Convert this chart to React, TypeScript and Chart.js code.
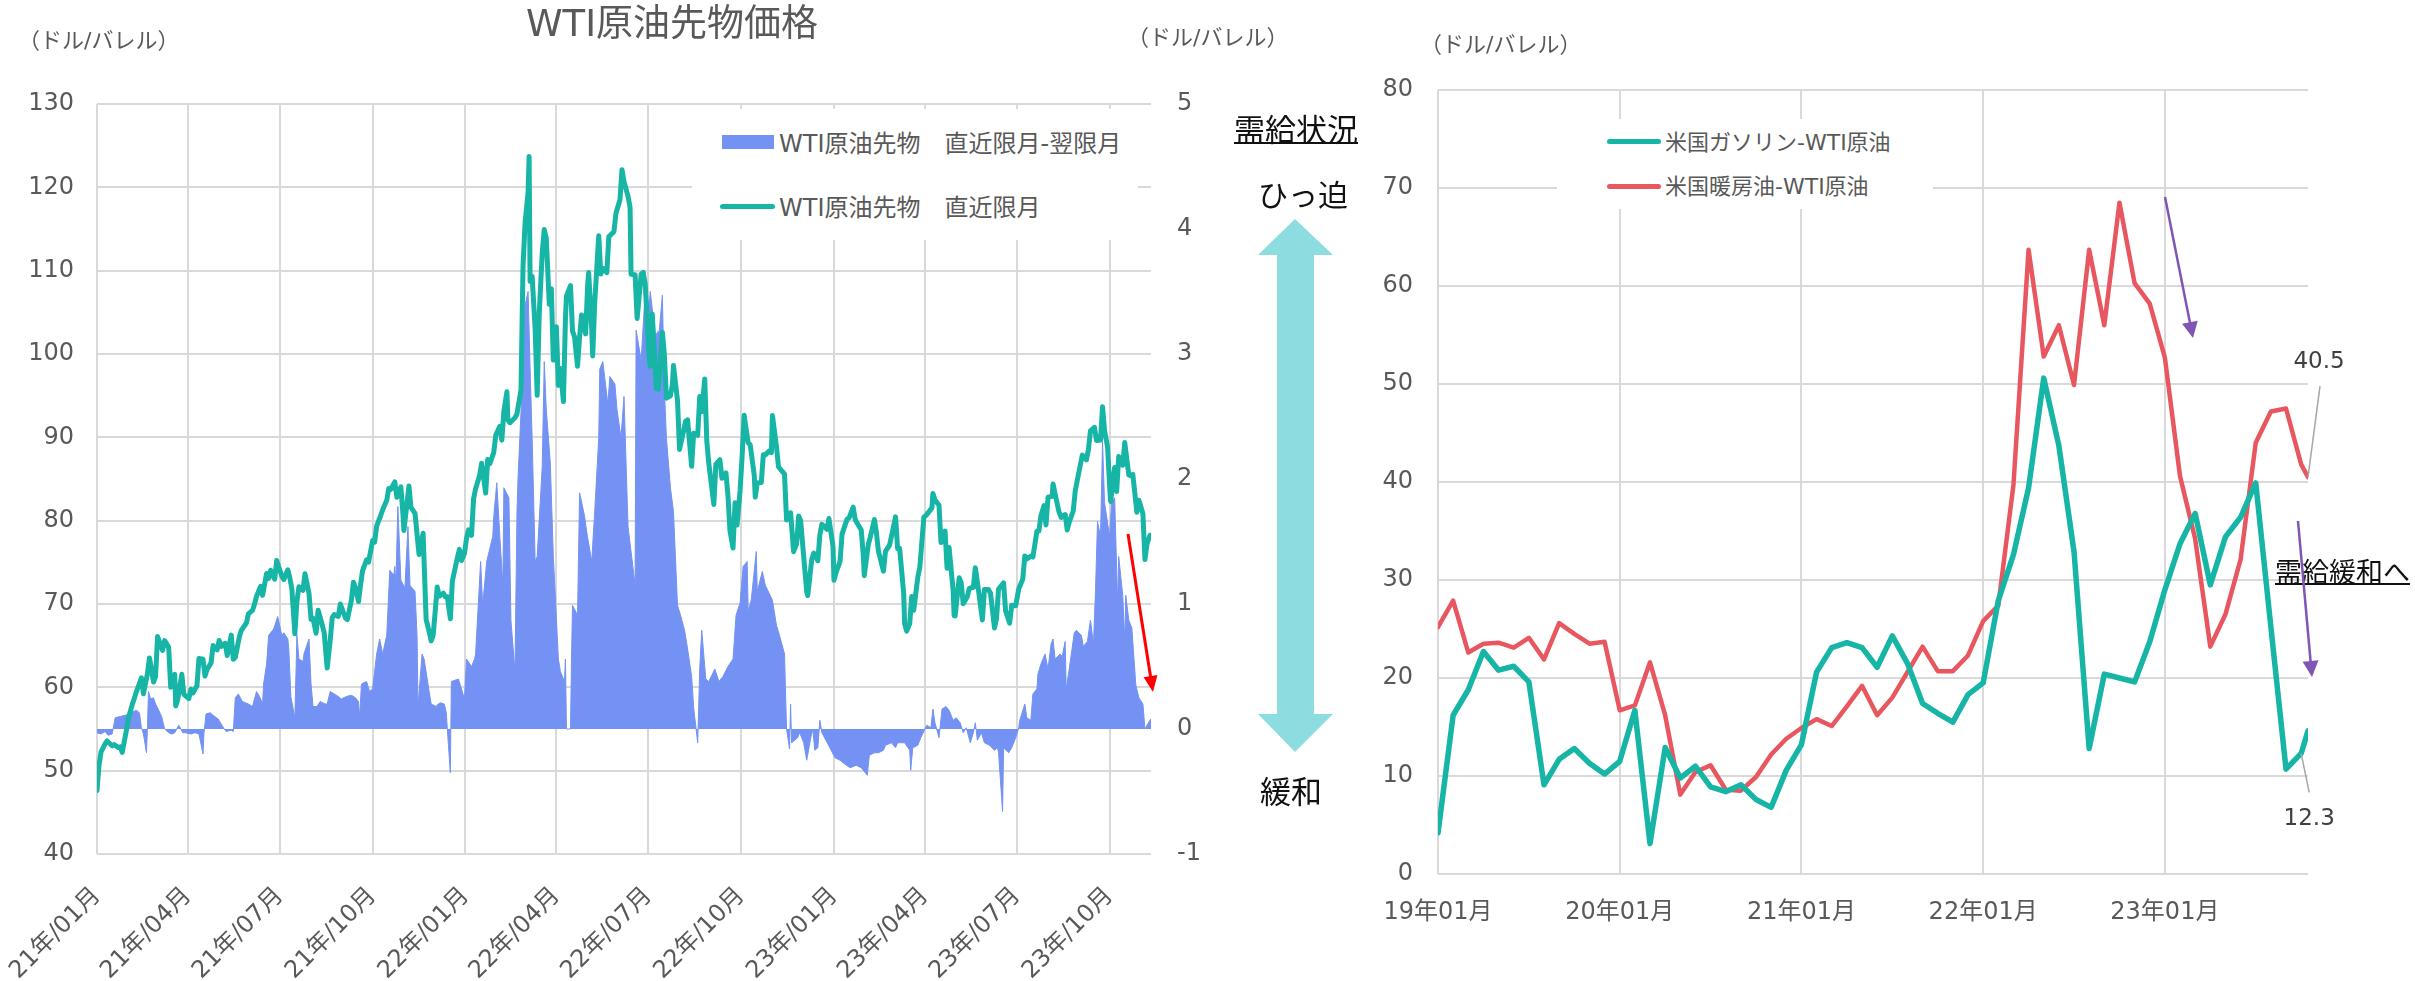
import React, { useEffect, useRef } from "react";
import { Chart, registerables } from "chart.js";

Chart.register(...registerables);

const FONT = "'DejaVu Sans', 'Noto Sans CJK JP', sans-serif";
const TEXT = "#595959";
const GRID = "#d9d9d9";
const TEAL = "#16B5A6";
const BLUE = "#7392F3";
const RED = "#E8575F";
const PURPLE = "#7F56B3";
const ARROW_CYAN = "#8CDCE0";

// ---------------- Left chart: WTI front month (USD/bbl) ----------------
const wtiDates = [
  "21-01-04","21-01-06","21-01-08","21-01-12","21-01-14","21-01-19","21-01-21","21-01-25","21-01-27","21-01-29",
  "21-02-02","21-02-04","21-02-08","21-02-10","21-02-12","21-02-17","21-02-19","21-02-23","21-02-25",
  "21-03-01","21-03-03","21-03-05","21-03-08","21-03-10","21-03-12","21-03-16","21-03-18","21-03-22","21-03-23","21-03-25","21-03-29","21-03-31",
  "21-04-05","21-04-07","21-04-09","21-04-13","21-04-15","21-04-19","21-04-21","21-04-23","21-04-27","21-04-29",
  "21-05-03","21-05-05","21-05-07","21-05-11","21-05-13","21-05-17","21-05-19","21-05-21","21-05-25","21-05-27",
  "21-06-01","21-06-03","21-06-07","21-06-09","21-06-11","21-06-15","21-06-17","21-06-21","21-06-23","21-06-25","21-06-29",
  "21-07-01","21-07-06","21-07-08","21-07-12","21-07-14","21-07-16","21-07-19","21-07-21","21-07-23","21-07-27","21-07-29",
  "21-08-02","21-08-04","21-08-06","21-08-09","21-08-11","21-08-13","21-08-17","21-08-19","21-08-20","21-08-23","21-08-25","21-08-27","21-08-31",
  "21-09-02","21-09-07","21-09-09","21-09-13","21-09-15","21-09-17","21-09-20","21-09-22","21-09-24","21-09-28","21-09-30",
  "21-10-04","21-10-06","21-10-08","21-10-12","21-10-14","21-10-18","21-10-20","21-10-22","21-10-26","21-10-28",
  "21-11-01","21-11-03","21-11-04","21-11-09","21-11-11","21-11-15","21-11-17","21-11-19","21-11-23","21-11-26","21-11-30",
  "21-12-01","21-12-03","21-12-07","21-12-09","21-12-13","21-12-15","21-12-17","21-12-20","21-12-22","21-12-27","21-12-29","21-12-31",
  "22-01-03","22-01-05","22-01-07","22-01-10","22-01-12","22-01-14","22-01-18","22-01-20","22-01-24","22-01-26","22-01-28",
  "22-02-01","22-02-03","22-02-07","22-02-09","22-02-11","22-02-14","22-02-15","22-02-17","22-02-22","22-02-24","22-02-28",
  "22-03-01","22-03-02","22-03-04","22-03-07","22-03-08","22-03-09","22-03-11","22-03-14","22-03-16","22-03-18","22-03-21","22-03-23","22-03-25","22-03-28","22-03-30",
  "22-04-01","22-04-04","22-04-06","22-04-08","22-04-11","22-04-13","22-04-14","22-04-18","22-04-20","22-04-22","22-04-25","22-04-27","22-04-29",
  "22-05-03","22-05-05","22-05-06","22-05-09","22-05-10","22-05-12","22-05-16","22-05-18","22-05-20","22-05-24","22-05-26","22-05-31",
  "22-06-02","22-06-06","22-06-08","22-06-10","22-06-14","22-06-16","22-06-17","22-06-21","22-06-23","22-06-27","22-06-29",
  "22-07-01","22-07-05","22-07-06","22-07-08","22-07-12","22-07-14","22-07-18","22-07-20","22-07-22","22-07-26","22-07-28","22-07-29",
  "22-08-02","22-08-04","22-08-08","22-08-10","22-08-12","22-08-16","22-08-18","22-08-22","22-08-24","22-08-26","22-08-29","22-08-31",
  "22-09-02","22-09-07","22-09-09","22-09-13","22-09-15","22-09-19","22-09-21","22-09-23","22-09-26","22-09-28","22-09-30",
  "22-10-03","22-10-05","22-10-07","22-10-11","22-10-13","22-10-17","22-10-18","22-10-20","22-10-24","22-10-26","22-10-28",
  "22-11-01","22-11-03","22-11-04","22-11-08","22-11-10","22-11-14","22-11-16","22-11-18","22-11-22","22-11-25","22-11-28","22-11-30",
  "22-12-02","22-12-06","22-12-08","22-12-09","22-12-13","22-12-15","22-12-19","22-12-21","22-12-23","22-12-28","22-12-30",
  "23-01-03","23-01-04","23-01-06","23-01-10","23-01-12","23-01-17","23-01-19","23-01-23","23-01-25","23-01-27","23-01-31",
  "23-02-02","23-02-03","23-02-07","23-02-09","23-02-13","23-02-15","23-02-17","23-02-22","23-02-24","23-02-28",
  "23-03-02","23-03-06","23-03-08","23-03-10","23-03-14","23-03-15","23-03-17","23-03-20","23-03-22","23-03-24","23-03-28","23-03-30",
  "23-04-03","23-04-05","23-04-11","23-04-12","23-04-14","23-04-18","23-04-20","23-04-24","23-04-26","23-04-28",
  "23-05-02","23-05-03","23-05-04","23-05-08","23-05-10","23-05-12","23-05-16","23-05-18","23-05-22","23-05-24","23-05-26","23-05-31",
  "23-06-02","23-06-06","23-06-08","23-06-12","23-06-14","23-06-16","23-06-21","23-06-23","23-06-27","23-06-29",
  "23-07-03","23-07-06","23-07-10","23-07-12","23-07-14","23-07-18","23-07-20","23-07-24","23-07-26","23-07-28","23-07-31",
  "23-08-02","23-08-04","23-08-08","23-08-09","23-08-11","23-08-15","23-08-17","23-08-21","23-08-23","23-08-25","23-08-29","23-08-31",
  "23-09-05","23-09-07","23-09-11","23-09-13","23-09-15","23-09-19","23-09-21","23-09-25","23-09-27","23-09-29",
  "23-10-02","23-10-04","23-10-05","23-10-09","23-10-11","23-10-13","23-10-17","23-10-19","23-10-23","23-10-25","23-10-27","23-10-31",
  "23-11-02","23-11-06","23-11-08","23-11-10","23-11-13","23-11-14",
];
const wtiPrice = [
  47.62,50.63,52.24,53.21,53.57,52.98,53.13,52.77,52.85,52.20,
  54.76,56.23,57.97,58.68,59.47,61.14,59.24,61.67,63.53,
  60.64,61.28,66.09,65.05,64.44,65.61,64.80,60.00,61.55,57.76,58.56,61.56,59.16,
  58.65,59.77,59.32,60.18,63.46,63.38,61.35,62.14,62.94,65.01,
  64.49,65.63,64.90,65.28,63.82,66.27,63.36,63.58,66.07,66.85,
  67.72,68.81,69.23,69.96,70.91,72.12,71.04,73.66,73.08,74.05,72.98,
  75.23,73.37,72.94,74.10,73.13,71.81,66.42,70.30,72.07,71.65,73.62,
  71.26,68.15,68.28,66.48,69.25,68.44,66.59,63.69,62.32,65.64,68.36,68.74,68.50,
  69.99,68.35,68.14,70.45,72.61,71.97,70.29,72.23,73.98,75.29,75.03,
  77.62,77.43,79.35,80.64,81.31,82.44,83.87,83.76,84.65,82.81,
  84.05,80.86,78.81,84.15,81.59,80.88,78.36,75.94,78.50,68.15,66.18,
  65.57,66.26,72.05,70.94,71.29,70.87,70.86,68.23,72.76,75.57,76.56,75.21,
  76.08,77.85,78.90,78.23,82.64,83.82,85.43,86.90,83.31,87.35,86.82,
  88.20,90.27,91.32,89.66,93.10,95.46,92.07,91.76,92.35,92.81,95.72,
  103.41,110.60,115.68,119.40,123.70,108.70,109.33,103.01,95.04,104.70,112.12,114.93,113.90,105.96,107.82,
  99.27,103.28,96.23,98.26,94.29,104.25,106.95,108.21,102.75,102.07,98.54,102.02,104.69,
  102.41,108.26,109.77,103.09,99.76,106.13,114.20,109.59,110.28,109.77,114.09,114.67,
  116.87,118.50,122.11,120.67,118.93,117.59,109.56,109.52,104.27,109.57,109.78,
  108.43,99.50,98.53,104.79,95.84,95.78,102.60,99.88,94.70,94.98,96.42,98.62,
  94.42,88.54,90.76,91.93,92.09,86.53,90.50,90.23,94.89,93.06,97.01,89.55,
  86.87,81.94,86.79,87.31,85.10,85.73,82.94,78.74,76.71,82.15,79.49,
  83.63,87.76,92.64,89.35,89.11,85.46,82.82,84.51,84.58,87.91,87.90,
  88.37,88.17,92.61,88.91,86.47,85.87,85.59,80.08,80.95,76.28,77.24,80.55,
  79.98,74.25,71.46,71.02,75.39,76.11,75.19,78.29,79.56,78.96,80.26,
  76.93,72.84,73.77,75.12,78.39,80.18,80.33,81.62,80.15,79.68,78.87,
  75.88,73.39,77.14,78.06,80.14,78.59,76.34,73.95,76.32,77.05,
  78.16,80.46,76.66,76.68,71.33,67.61,66.74,67.64,70.90,69.26,73.20,74.37,
  80.42,80.61,81.53,83.26,82.52,81.86,77.37,78.76,74.30,76.78,
  71.66,68.60,68.56,73.16,72.56,70.04,70.86,71.86,71.99,74.34,72.67,68.09,
  71.74,71.74,71.29,67.12,68.27,71.78,72.53,69.16,67.70,69.86,
  69.79,71.80,72.99,75.75,75.42,75.75,75.63,78.74,78.78,80.58,81.80,
  79.49,82.82,82.92,84.40,83.19,80.99,80.39,80.72,78.89,79.83,81.16,83.63,
  86.69,87.87,87.29,88.52,90.77,91.20,89.63,89.68,93.68,90.79,
  88.82,84.22,82.31,86.38,83.49,87.69,86.66,89.37,85.49,85.39,85.54,81.02,
  82.46,80.82,75.33,77.17,78.26,78.26,
];

// Front month minus second month spread (USD/bbl, right axis)
const spreadDates = [
  "21-01-04","21-01-08","21-01-12","21-01-15","21-01-19","21-01-22","21-01-27",
  "21-02-01","21-02-04","21-02-09","21-02-12","21-02-15","21-02-17","21-02-19","21-02-22","21-02-23","21-02-24","21-02-26",
  "21-03-01","21-03-03","21-03-05","21-03-09","21-03-12","21-03-16","21-03-19","21-03-22","21-03-26","21-03-30",
  "21-04-02","21-04-07","21-04-11","21-04-15","21-04-19","21-04-20","21-04-22","21-04-26","21-04-29",
  "21-05-04","21-05-07","21-05-10","21-05-12","21-05-17","21-05-19","21-05-21","21-05-24","21-05-28",
  "21-06-03","21-06-07","21-06-11","21-06-14","21-06-17","21-06-18","21-06-21","21-06-23","21-06-28",
  "21-07-02","21-07-06","21-07-08","21-07-12","21-07-13","21-07-15","21-07-19","21-07-21","21-07-23","21-07-27","21-07-28",
  "21-08-02","21-08-04","21-08-06","21-08-10","21-08-13","21-08-18","21-08-20","21-08-23","21-08-27","21-08-31",
  "21-09-03","21-09-08","21-09-13","21-09-17","21-09-20","21-09-21","21-09-23","21-09-28",
  "21-10-01","21-10-04","21-10-08","21-10-11","21-10-14","21-10-18","21-10-21","21-10-25","21-10-26","21-10-27","21-10-29",
  "21-11-01","21-11-05","21-11-08","21-11-10","21-11-15","21-11-17","21-11-18","21-11-22","21-11-24","21-11-29",
  "21-12-01","21-12-06","21-12-08","21-12-10","21-12-14","21-12-16","21-12-17","21-12-20","21-12-21","21-12-28",
  "22-01-03","22-01-05","22-01-10","22-01-13","22-01-14","22-01-19","22-01-21","22-01-25","22-01-31",
  "22-02-01","22-02-04","22-02-07","22-02-10","22-02-11","22-02-16","22-02-18","22-02-22","22-02-24","22-02-25",
  "22-03-02","22-03-04","22-03-07","22-03-09","22-03-11","22-03-14","22-03-16","22-03-21","22-03-23","22-03-25","22-03-29",
  "22-04-01","22-04-06","22-04-08","22-04-12","22-04-13","22-04-14","22-04-18","22-04-19","22-04-20","22-04-25","22-04-27",
  "22-05-02","22-05-04","22-05-09","22-05-12","22-05-16","22-05-17","22-05-20","22-05-25","22-05-27",
  "22-06-01","22-06-03","22-06-07","22-06-10","22-06-14","22-06-21","22-06-22","22-06-27",
  "22-07-01","22-07-05","22-07-06","22-07-11","22-07-15","22-07-18","22-07-20","22-07-22","22-07-26","22-07-29",
  "22-08-02","22-08-05","22-08-09","22-08-12","22-08-16","22-08-18","22-08-22","22-08-24","22-08-26","22-08-30",
  "22-09-02","22-09-08","22-09-12","22-09-16","22-09-21","22-09-26","22-09-29",
  "22-10-03","22-10-06","22-10-10","22-10-11","22-10-14","22-10-19","22-10-20","22-10-25","22-10-28",
  "22-11-04","22-11-08","22-11-11","22-11-16","22-11-18","22-11-21","22-11-22","22-11-23","22-11-29",
  "22-12-01","22-12-05","22-12-08","22-12-12","22-12-14","22-12-16","22-12-19","22-12-21","22-12-23","22-12-29",
  "23-01-05","23-01-10","23-01-13","23-01-20","23-01-26","23-01-31",
  "23-02-06","23-02-08","23-02-13","23-02-17","23-02-22","23-02-24",
  "23-03-02","23-03-06","23-03-08","23-03-15","23-03-20","23-03-21","23-03-23","23-03-28","23-03-31",
  "23-04-04","23-04-06","23-04-10","23-04-12","23-04-14","23-04-18","23-04-21","23-04-25","23-04-28",
  "23-05-02","23-05-05","23-05-09","23-05-12","23-05-15","23-05-19","23-05-22","23-05-24","23-05-26","23-05-30",
  "23-06-02","23-06-07","23-06-12","23-06-15","23-06-16","23-06-20","23-06-21","23-06-26","23-06-29",
  "23-07-03","23-07-06","23-07-07","23-07-12","23-07-14","23-07-18","23-07-20","23-07-24","23-07-25","23-07-28",
  "23-08-01","23-08-04","23-08-07","23-08-09","23-08-11","23-08-16","23-08-18","23-08-21","23-08-22","23-08-25","23-08-30",
  "23-09-01","23-09-06","23-09-08","23-09-12","23-09-15","23-09-18","23-09-20","23-09-22","23-09-25","23-09-27","23-09-29",
  "23-10-04","23-10-06","23-10-09","23-10-12","23-10-13","23-10-17","23-10-19","23-10-20","23-10-23","23-10-26","23-10-30",
  "23-11-02","23-11-06","23-11-08","23-11-10","23-11-13","23-11-14",
];
const spreadValues = [
  -0.03,-0.04,-0.02,-0.05,-0.04,0.09,0.10,
  0.11,0.12,0.14,0.15,0.13,0.01,-0.04,-0.19,0.02,0.30,0.24,
  0.25,0.20,0.17,0.10,0.00,-0.03,-0.04,-0.03,0.03,-0.03,
  -0.03,-0.04,-0.03,-0.04,-0.20,-0.03,0.12,0.13,0.11,
  0.08,0.04,0.00,-0.02,-0.01,-0.02,0.25,0.28,0.22,
  0.20,0.18,0.30,0.26,0.20,0.36,0.52,0.75,0.80,
  0.90,0.75,0.77,0.72,0.64,0.26,0.09,0.75,0.56,0.54,0.60,
  0.72,0.36,0.18,0.18,0.22,0.20,0.20,0.30,0.28,0.26,
  0.24,0.26,0.27,0.25,0.22,0.09,0.36,0.38,
  0.30,0.32,0.60,0.72,0.60,0.75,1.27,1.23,1.30,1.15,1.78,
  1.19,1.13,1.62,1.15,1.10,0.75,0.18,0.60,0.56,0.30,
  0.20,0.18,0.20,0.21,0.20,0.13,0.00,-0.35,0.38,0.40,
  0.24,0.56,0.50,0.56,0.60,1.34,0.99,1.34,1.54,
  1.70,1.97,1.54,1.15,1.93,1.85,0.87,0.46,1.74,2.00,
  2.90,3.39,3.50,2.88,2.33,1.34,1.38,2.10,2.94,2.56,2.13,
  1.38,0.56,0.46,0.38,0.56,0.00,0.00,0.56,0.99,0.91,1.89,
  1.70,1.58,1.34,1.74,2.33,2.88,2.94,2.60,2.82,
  2.76,2.56,2.33,2.66,1.62,1.15,3.19,2.95,
  3.50,3.39,3.50,3.15,3.19,3.47,2.72,2.33,1.93,1.74,
  0.99,0.91,0.79,0.64,0.42,0.17,-0.11,0.48,0.79,0.40,
  0.38,0.48,0.38,0.42,0.50,0.56,0.91,
  1.01,1.30,1.34,0.94,1.03,1.42,1.10,1.26,1.15,
  1.03,0.83,0.75,0.60,0.00,-0.16,0.20,-0.11,-0.07,
  -0.03,-0.11,-0.25,-0.07,0.00,-0.17,-0.15,0.07,-0.03,-0.12,
  -0.23,-0.25,-0.27,-0.31,-0.29,-0.31,
  -0.37,-0.21,-0.19,-0.19,-0.17,-0.13,
  -0.11,-0.15,-0.11,-0.11,-0.17,-0.33,-0.15,-0.13,-0.07,
  0.00,0.03,0.01,0.16,0.05,-0.07,0.16,0.18,0.15,
  0.07,0.09,0.05,-0.03,0.01,-0.11,-0.03,0.05,-0.09,-0.03,
  -0.11,-0.13,-0.17,-0.15,-0.19,-0.66,-0.15,-0.19,-0.15,
  -0.07,0.01,0.07,0.20,0.09,0.07,0.28,0.32,0.44,0.52,
  0.60,0.48,0.68,0.72,0.56,0.60,0.58,0.70,0.32,0.48,0.77,
  0.79,0.75,0.66,0.70,0.87,0.68,1.10,1.66,1.54,2.30,1.81,
  1.54,1.81,1.85,0.99,1.38,1.07,0.71,1.07,0.87,0.81,0.35,
  0.25,0.20,0.00,0.03,0.07,0.08,
];

const leftTickDates = ["21-01-04","21-04-04","21-07-04","21-10-04","22-01-04","22-04-04","22-07-04","22-10-04","23-01-04","23-04-04","23-07-04","23-10-04"];
const leftTickLabels = ["21年/01月","21年/04月","21年/07月","21年/10月","22年/01月","22年/04月","22年/07月","22年/10月","23年/01月","23年/04月","23年/07月","23年/10月"];

// ---------------- Right chart: crack spreads (USD/bbl) ----------------
const crackMonths = [
  "19-01-01","19-02-01","19-03-01","19-04-01","19-05-01","19-06-01","19-07-01","19-08-01","19-09-01","19-10-01","19-11-01","19-12-01",
  "20-01-01","20-02-01","20-03-01","20-04-01","20-05-01","20-06-01","20-07-01","20-08-01","20-09-01","20-10-01","20-11-01","20-12-01",
  "21-01-01","21-02-01","21-03-01","21-04-01","21-05-01","21-06-01","21-07-01","21-08-01","21-09-01","21-10-01","21-11-01","21-12-01",
  "22-01-01","22-02-01","22-03-01","22-04-01","22-05-01","22-06-01","22-07-01","22-08-01","22-09-01","22-10-01","22-11-01","22-12-01",
  "23-01-01","23-02-01","23-03-01","23-04-01","23-05-01","23-06-01","23-07-01","23-08-01","23-09-01","23-10-01","23-10-15",
];
const gasolineCrack = [
  4.2,16.2,18.8,22.7,20.8,21.2,19.6,9.1,11.7,12.8,11.3,10.2,
  11.5,16.7,3.1,12.9,9.8,11.0,8.9,8.4,9.1,7.6,6.8,10.6,
  13.2,20.6,23.1,23.6,23.1,21.1,24.3,21.5,17.4,16.4,15.5,18.3,
  19.5,27.9,32.6,39.4,50.6,43.7,32.9,12.8,20.4,20.0,19.6,23.7,
  29.0,33.7,36.8,29.5,34.4,36.4,39.9,25.2,10.7,12.3,14.6,
];
const heatingOilCrack = [
  25.2,27.9,22.6,23.5,23.6,23.1,24.1,21.9,25.6,24.5,23.5,23.7,
  16.7,17.2,21.6,16.2,8.1,10.4,11.1,8.6,8.5,9.9,12.2,13.8,
  14.9,15.8,15.1,17.1,19.2,16.2,18.0,20.6,23.2,20.7,20.7,22.3,
  25.8,27.4,39.7,63.7,52.8,56.0,49.9,63.7,56.0,68.5,60.3,58.2,
  52.7,40.6,34.2,23.2,26.5,32.1,44.0,47.2,47.5,41.8,40.5,
];
const rightTickDates = ["19-01-01","20-01-01","21-01-01","22-01-01","23-01-01"];
const rightTickLabels = ["19年01月","20年01月","21年01月","22年01月","23年01月"];

// ---------------- helpers ----------------
const ymd = (s: string) => {
  const p = s.split("-").map(Number);
  return [p[0] < 100 ? 2000 + p[0] : p[0], p[1], p[2]];
};
const dayNum = (s: string) => {
  const [y, m, d] = ymd(s);
  return Date.UTC(y, m - 1, d) / 86400000;
};
const monthNum = (s: string) => {
  const [y, m, d] = ymd(s);
  return (y - 2019) * 12 + (m - 1) + (d - 1) / 31;
};
const pairs = (xs: string[], ys: number[], f: (s: string) => number) => {
  const n = Math.min(xs.length, ys.length);
  const out: { x: number; y: number }[] = [];
  for (let i = 0; i < n; i++) out.push({ x: f(xs[i]), y: ys[i] });
  return out;
};

const valueLabels = {
  id: "valueLabels",
  afterDatasetsDraw(chart: any) {
    const ctx = chart.ctx;
    const specs = [
      { ds: 1, idx: heatingOilCrack.length - 1, dx: 11, dy: -115, lx: 12, ly: -91 },
      { ds: 0, idx: gasolineCrack.length - 2, dx: 8, dy: 66, lx: 8, ly: 39 },
    ];
    ctx.save();
    for (const s of specs) {
      const el = chart.getDatasetMeta(s.ds).data[s.idx];
      const v = chart.data.datasets[s.ds].data[s.idx].y;
      if (!el) continue;
      ctx.strokeStyle = "#a6a6a6";
      ctx.lineWidth = 1.5;
      ctx.beginPath();
      ctx.moveTo(el.x + s.lx, el.y + s.ly);
      ctx.lineTo(el.x, el.y);
      ctx.stroke();
      ctx.fillStyle = "#404040";
      ctx.font = `23px ${FONT}`;
      ctx.textAlign = "center";
      ctx.textBaseline = "middle";
      ctx.fillText(v.toFixed(1), el.x + s.dx, el.y + s.dy);
    }
    ctx.restore();
  },
};

function arrow(x1: number, y1: number, x2: number, y2: number, hl: number, hw: number) {
  const dx = x2 - x1, dy = y2 - y1;
  const L = Math.hypot(dx, dy);
  const ux = dx / L, uy = dy / L;
  const bx = x2 - ux * hl, by = y2 - uy * hl;
  const px = -uy, py = ux;
  return {
    line: { x1, y1, x2: bx + ux * 1, y2: by + uy * 1 },
    head: `${x2},${y2} ${bx + px * hw},${by + py * hw} ${bx - px * hw},${by - py * hw}`,
  };
}

const noPad = (s: any) => {
  s.paddingLeft = 0;
  s.paddingRight = 0;
  s.paddingTop = 0;
  s.paddingBottom = 0;
};

const T = (p: any) => (
  <div
    style={{
      position: "absolute",
      left: p.x,
      top: p.y,
      width: p.w,
      textAlign: p.align || "left",
      fontSize: p.size,
      lineHeight: `${p.size}px`,
      color: p.color || TEXT,
      whiteSpace: "nowrap",
      textDecoration: p.underline ? "underline" : "none",
      textDecorationThickness: p.underline ? "1.5px" : undefined,
      fontFamily: FONT,
    }}
  >
    {p.children}
  </div>
);

export default function App() {
  const leftRef = useRef<HTMLCanvasElement>(null);
  const rightRef = useRef<HTMLCanvasElement>(null);

  useEffect(() => {
    document.body.style.margin = "0";
    Chart.defaults.font.family = FONT;
    Chart.defaults.color = TEXT;

    const left = new Chart(leftRef.current as HTMLCanvasElement, {
      type: "line",
      data: {
        datasets: [
          {
            label: "WTI原油先物　直近限月",
            data: pairs(wtiDates, wtiPrice, dayNum),
            borderColor: TEAL,
            borderWidth: 5,
            pointRadius: 0,
            fill: false,
            tension: 0,
            yAxisID: "y",
            order: 1,
            borderJoinStyle: "round",
            borderCapStyle: "round",
          },
          {
            label: "WTI原油先物　直近限月-翌限月",
            data: pairs(spreadDates, spreadValues, dayNum),
            borderColor: BLUE,
            backgroundColor: BLUE,
            borderWidth: 1,
            pointRadius: 0,
            fill: "origin",
            tension: 0,
            yAxisID: "y2",
            order: 2,
          },
        ],
      } as any,
      options: {
        responsive: false,
        animation: false,
        devicePixelRatio: 1,
        layout: { padding: { left: 0, right: 0, top: 104, bottom: 0 }, autoPadding: false } as any,
        plugins: { legend: { display: false }, tooltip: { enabled: false }, title: { display: false } },
        scales: {
          x: {
            type: "linear",
            min: dayNum(wtiDates[0]),
            max: dayNum(wtiDates[wtiDates.length - 1]),
            afterBuildTicks: (s: any) => {
              s.ticks = leftTickDates.map((d) => ({ value: dayNum(d) }));
            },
            afterFit: (s: any) => {
              s.height = 127;
              noPad(s);
            },
            grid: { color: GRID, lineWidth: 2, drawTicks: false },
            border: { display: false },
            ticks: {
              autoSkip: false,
              minRotation: 45,
              maxRotation: 45,
              padding: 28,
              color: TEXT,
              font: { size: 24, family: FONT },
              callback: (_v: any, i: number) => leftTickLabels[i],
            },
          },
          y: {
            type: "linear",
            position: "left",
            min: 40,
            max: 130,
            afterFit: (s: any) => {
              s.width = 97;
              noPad(s);
            },
            grid: { color: GRID, lineWidth: 2, drawTicks: false },
            border: { display: false },
            ticks: { stepSize: 10, padding: 23, color: TEXT, font: { size: 24, family: FONT } },
          },
          y2: {
            type: "linear",
            position: "right",
            min: -1,
            max: 5,
            afterFit: (s: any) => {
              s.width = 79;
              noPad(s);
            },
            grid: { display: false, drawTicks: false },
            border: { display: false },
            ticks: { stepSize: 1, padding: 26, color: TEXT, font: { size: 24, family: FONT } },
          },
        },
      } as any,
    });

    const right = new Chart(rightRef.current as HTMLCanvasElement, {
      type: "line",
      data: {
        datasets: [
          {
            label: "米国ガソリン-WTI原油",
            data: pairs(crackMonths, gasolineCrack, monthNum),
            borderColor: TEAL,
            borderWidth: 5.5,
            pointRadius: 0,
            fill: false,
            tension: 0,
            borderJoinStyle: "round",
            borderCapStyle: "round",
          },
          {
            label: "米国暖房油-WTI原油",
            data: pairs(crackMonths, heatingOilCrack, monthNum),
            borderColor: RED,
            borderWidth: 4.5,
            pointRadius: 0,
            fill: false,
            tension: 0,
            borderJoinStyle: "round",
            borderCapStyle: "round",
          },
        ],
      } as any,
      options: {
        responsive: false,
        animation: false,
        devicePixelRatio: 1,
        layout: { padding: { left: 0, right: 107, top: 90, bottom: 0 }, autoPadding: false } as any,
        plugins: { legend: { display: false }, tooltip: { enabled: false }, title: { display: false } },
        scales: {
          x: {
            type: "linear",
            min: monthNum(crackMonths[0]),
            max: monthNum(crackMonths[crackMonths.length - 1]),
            afterBuildTicks: (s: any) => {
              s.ticks = rightTickDates.map((d) => ({ value: monthNum(d) }));
            },
            afterFit: (s: any) => {
              s.height = 107;
              noPad(s);
            },
            grid: { color: GRID, lineWidth: 2, drawTicks: false },
            border: { display: false },
            ticks: {
              autoSkip: false,
              minRotation: 0,
              maxRotation: 0,
              padding: 24,
              color: TEXT,
              font: { size: 24, family: FONT },
              callback: (_v: any, i: number) => rightTickLabels[i],
            },
          },
          y: {
            type: "linear",
            position: "left",
            min: 0,
            max: 80,
            afterFit: (s: any) => {
              s.width = 58;
              noPad(s);
            },
            grid: { color: GRID, lineWidth: 2, drawTicks: false },
            border: { display: false },
            ticks: { stepSize: 10, padding: 25, color: TEXT, font: { size: 24, family: FONT } },
          },
        },
      } as any,
      plugins: [valueLabels as any],
    });

    return () => {
      left.destroy();
      right.destroy();
    };
  }, []);

  const redArrow = arrow(1128, 534, 1153, 692, 16, 7);
  const pArrow1 = arrow(2165, 197, 2193, 338, 16, 8);
  const pArrow2 = arrow(2298, 521, 2312, 677, 16, 8);

  return (
    <div
      style={{
        position: "relative",
        width: 2415,
        height: 981,
        background: "#ffffff",
        overflow: "hidden",
        fontFamily: FONT,
      }}
    >
      <style>{`body{margin:0}`}</style>
      <canvas
        ref={leftRef}
        width={1230}
        height={981}
        style={{ position: "absolute", left: 0, top: 0, width: 1230, height: 981 }}
      />
      <canvas
        ref={rightRef}
        width={1035}
        height={981}
        style={{ position: "absolute", left: 1380, top: 0, width: 1035, height: 981 }}
      />

      {/* left chart texts */}
      <T x={526} y={5} size={37}>WTI原油先物価格</T>
      <T x={18} y={30} size={22}>（ドル/バレル）</T>
      <T x={1127} y={27} size={22}>（ドル/バレル）</T>

      {/* left legend */}
      <div style={{ position: "absolute", left: 692, top: 109, width: 446, height: 131, background: "#fff" }} />
      <div style={{ position: "absolute", left: 722, top: 135, width: 52, height: 14, background: BLUE }} />
      <T x={779} y={132} size={24}>WTI原油先物　直近限月-翌限月</T>
      <div style={{ position: "absolute", left: 720, top: 203.5, width: 55, height: 5, borderRadius: 2.5, background: TEAL }} />
      <T x={779} y={196} size={24}>WTI原油先物　直近限月</T>

      {/* middle panel */}
      <T x={1196} y={115} w={200} align="center" size={31} color="#111" underline>需給状況</T>
      <T x={1203} y={181} w={200} align="center" size={30} color="#111">ひっ迫</T>
      <T x={1191} y={777} w={200} align="center" size={31} color="#111">緩和</T>

      {/* right chart texts */}
      <T x={1420} y={34} size={22}>（ドル/バレル）</T>
      <div style={{ position: "absolute", left: 1557, top: 119, width: 376, height: 90, background: "#fff" }} />
      <div style={{ position: "absolute", left: 1607, top: 138.5, width: 54, height: 5, borderRadius: 2.5, background: TEAL }} />
      <T x={1665} y={132} size={22}>米国ガソリン-WTI原油</T>
      <div style={{ position: "absolute", left: 1607, top: 183.5, width: 54, height: 5, borderRadius: 2.5, background: RED }} />
      <T x={1665} y={176} size={22}>米国暖房油-WTI原油</T>
      <T x={2275} y={559} size={27} color="#111" underline>需給緩和へ</T>

      <svg
        width={2415}
        height={981}
        style={{ position: "absolute", left: 0, top: 0, pointerEvents: "none" }}
      >
        <polygon
          points="1295,219 1333,255 1314,255 1314,714 1333,714 1295,752 1258,714 1277,714 1277,255 1258,255"
          fill={ARROW_CYAN}
        />
        <line {...redArrow.line} stroke="#FF0000" strokeWidth={3} />
        <polygon points={redArrow.head} fill="#FF0000" />
        <line {...pArrow1.line} stroke={PURPLE} strokeWidth={2.5} />
        <polygon points={pArrow1.head} fill={PURPLE} />
        <line {...pArrow2.line} stroke={PURPLE} strokeWidth={2.5} />
        <polygon points={pArrow2.head} fill={PURPLE} />
      </svg>
    </div>
  );
}
